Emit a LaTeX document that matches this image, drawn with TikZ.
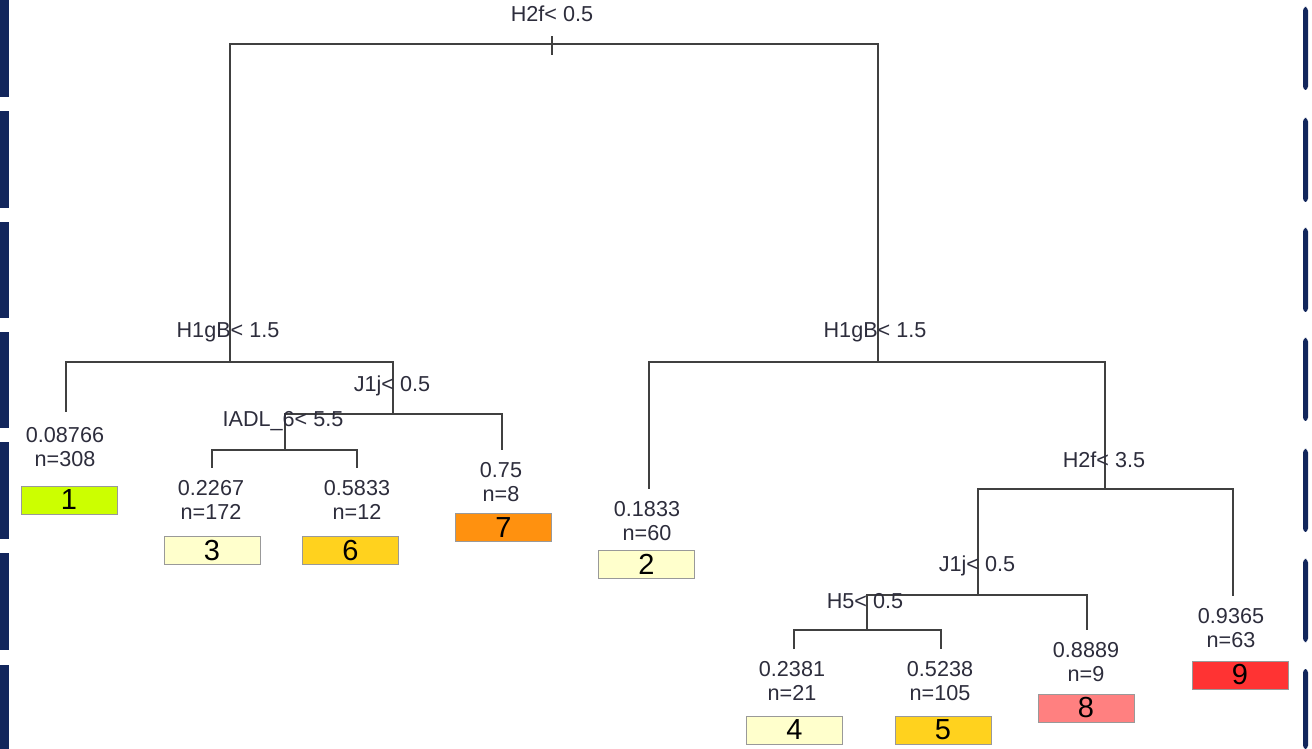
\documentclass[tikz,border=0pt]{standalone}
\usepackage{fontspec}
\setmainfont{Liberation Sans}

\definecolor{ink}{RGB}{45,45,60}
\definecolor{wire}{RGB}{64,64,64}
\definecolor{navy}{RGB}{18,38,92}
\definecolor{lime}{RGB}{204,255,0}
\definecolor{cream}{RGB}{255,255,204}
\definecolor{gold}{RGB}{255,210,30}
\definecolor{amber}{RGB}{255,145,15}
\definecolor{salmon}{RGB}{255,128,128}
\definecolor{scarlet}{RGB}{255,51,51}

\begin{document}
\begin{tikzpicture}[x=0.02cm, y=-0.02cm,%
	every node/.style={font=\fontsize{12.3}{13.66}\selectfont, text=ink, inner sep=0pt},
	split/.style={anchor=base},
	leaf/.style={align=center},
	cls/.style={draw=gray!80, fill=#1, minimum width=1.92cm, minimum height=0.56cm,
		font=\fontsize{16.5}{18}\selectfont, text=black}]
	\fill[white] (0,0) rectangle (1312,749);
	\useasboundingbox (0,0) rectangle (1312,749);

	\foreach \a/\b in {0/97, 111/208, 222/318, 332/428, 442/539, 553/650, 665/749}
		\fill[navy] (0,\a) rectangle (9,\b);
	\foreach \a/\b in {7/90, 118/202, 228/312, 338/421, 449/532, 559/642, 669/749}
		\fill[navy, rounded corners=2pt] (1303,\a) rectangle (1308,\b);

	\coordinate (s1) at (552,44);
	\coordinate (s2) at (230,362);
	\coordinate (s3) at (393,414);
	\coordinate (s4) at (285,450);
	\coordinate (s5) at (878,362);
	\coordinate (s6) at (1105,489);
	\coordinate (s7) at (978,595);
	\coordinate (s8) at (867,630);

	\coordinate (t1) at (66,412);
	\coordinate (t3) at (212,468);
	\coordinate (t6) at (357,468);
	\coordinate (t7) at (502,450);
	\coordinate (t2) at (649,489);
	\coordinate (t4) at (794,649);
	\coordinate (t5) at (941,649);
	\coordinate (t8) at (1087,630);
	\coordinate (t9) at (1233,596);

	\draw[wire, line width=0.8pt]
	(s2) |- (s1) -| (s5)
	(t1) |- (s2) -| (s3)
	(s4) |- (s3) -| (t7)
	(t3) |- (s4) -| (t6)
	(t2) |- (s5) -| (s6)
	(s7) |- (s6) -| (t9)
	(s8) |- (s7) -| (t8)
	(t4) |- (s8) -| (t5)
	(s1) -- ++(0,-8)
	(s1) -- ++(0,11);

	\node[split] (q1) at (552,22) {H2f< 0.5};
	\node[split] (q2) at (228,338) {H1gB< 1.5};
	\node[split] (q3) at (392,392) {J1j< 0.5};
	\node[split] (q4) at (283,427) {IADL\_6< 5.5};
	\node[split] (q5) at (875,338) {H1gB< 1.5};
	\node[split] (q6) at (1104,468) {H2f< 3.5};
	\node[split] (q7) at (977,572) {J1j< 0.5};
	\node[split] (q8) at (865,608) {H5< 0.5};

	\node[leaf] (v1) at (65,447) {0.08766\\n=308};
	\node[leaf] (v3) at (211,500) {0.2267\\n=172};
	\node[leaf] (v6) at (357,500) {0.5833\\n=12};
	\node[leaf] (v7) at (501,482) {0.75\\n=8};
	\node[leaf] (v2) at (647,521) {0.1833\\n=60};
	\node[leaf] (v4) at (792,681) {0.2381\\n=21};
	\node[leaf] (v5) at (940,681) {0.5238\\n=105};
	\node[leaf] (v8) at (1086,662) {0.8889\\n=9};
	\node[leaf] (v9) at (1231,628) {0.9365\\n=63};

	\node[cls=lime] (b1) at (69,500) {1};
	\node[cls=cream] (b3) at (212,550.5) {3};
	\node[cls=gold] (b6) at (350.5,550.5) {6};
	\node[cls=amber] (b7) at (503.5,527.5) {7};
	\node[cls=cream] (b2) at (646.5,564.5) {2};
	\node[cls=cream] (b4) at (794.5,730) {4};
	\node[cls=gold] (b5) at (943,730) {5};
	\node[cls=salmon] (b8) at (1086,708) {8};
	\node[cls=scarlet] (b9) at (1240,675) {9};
\end{tikzpicture}
\end{document}
